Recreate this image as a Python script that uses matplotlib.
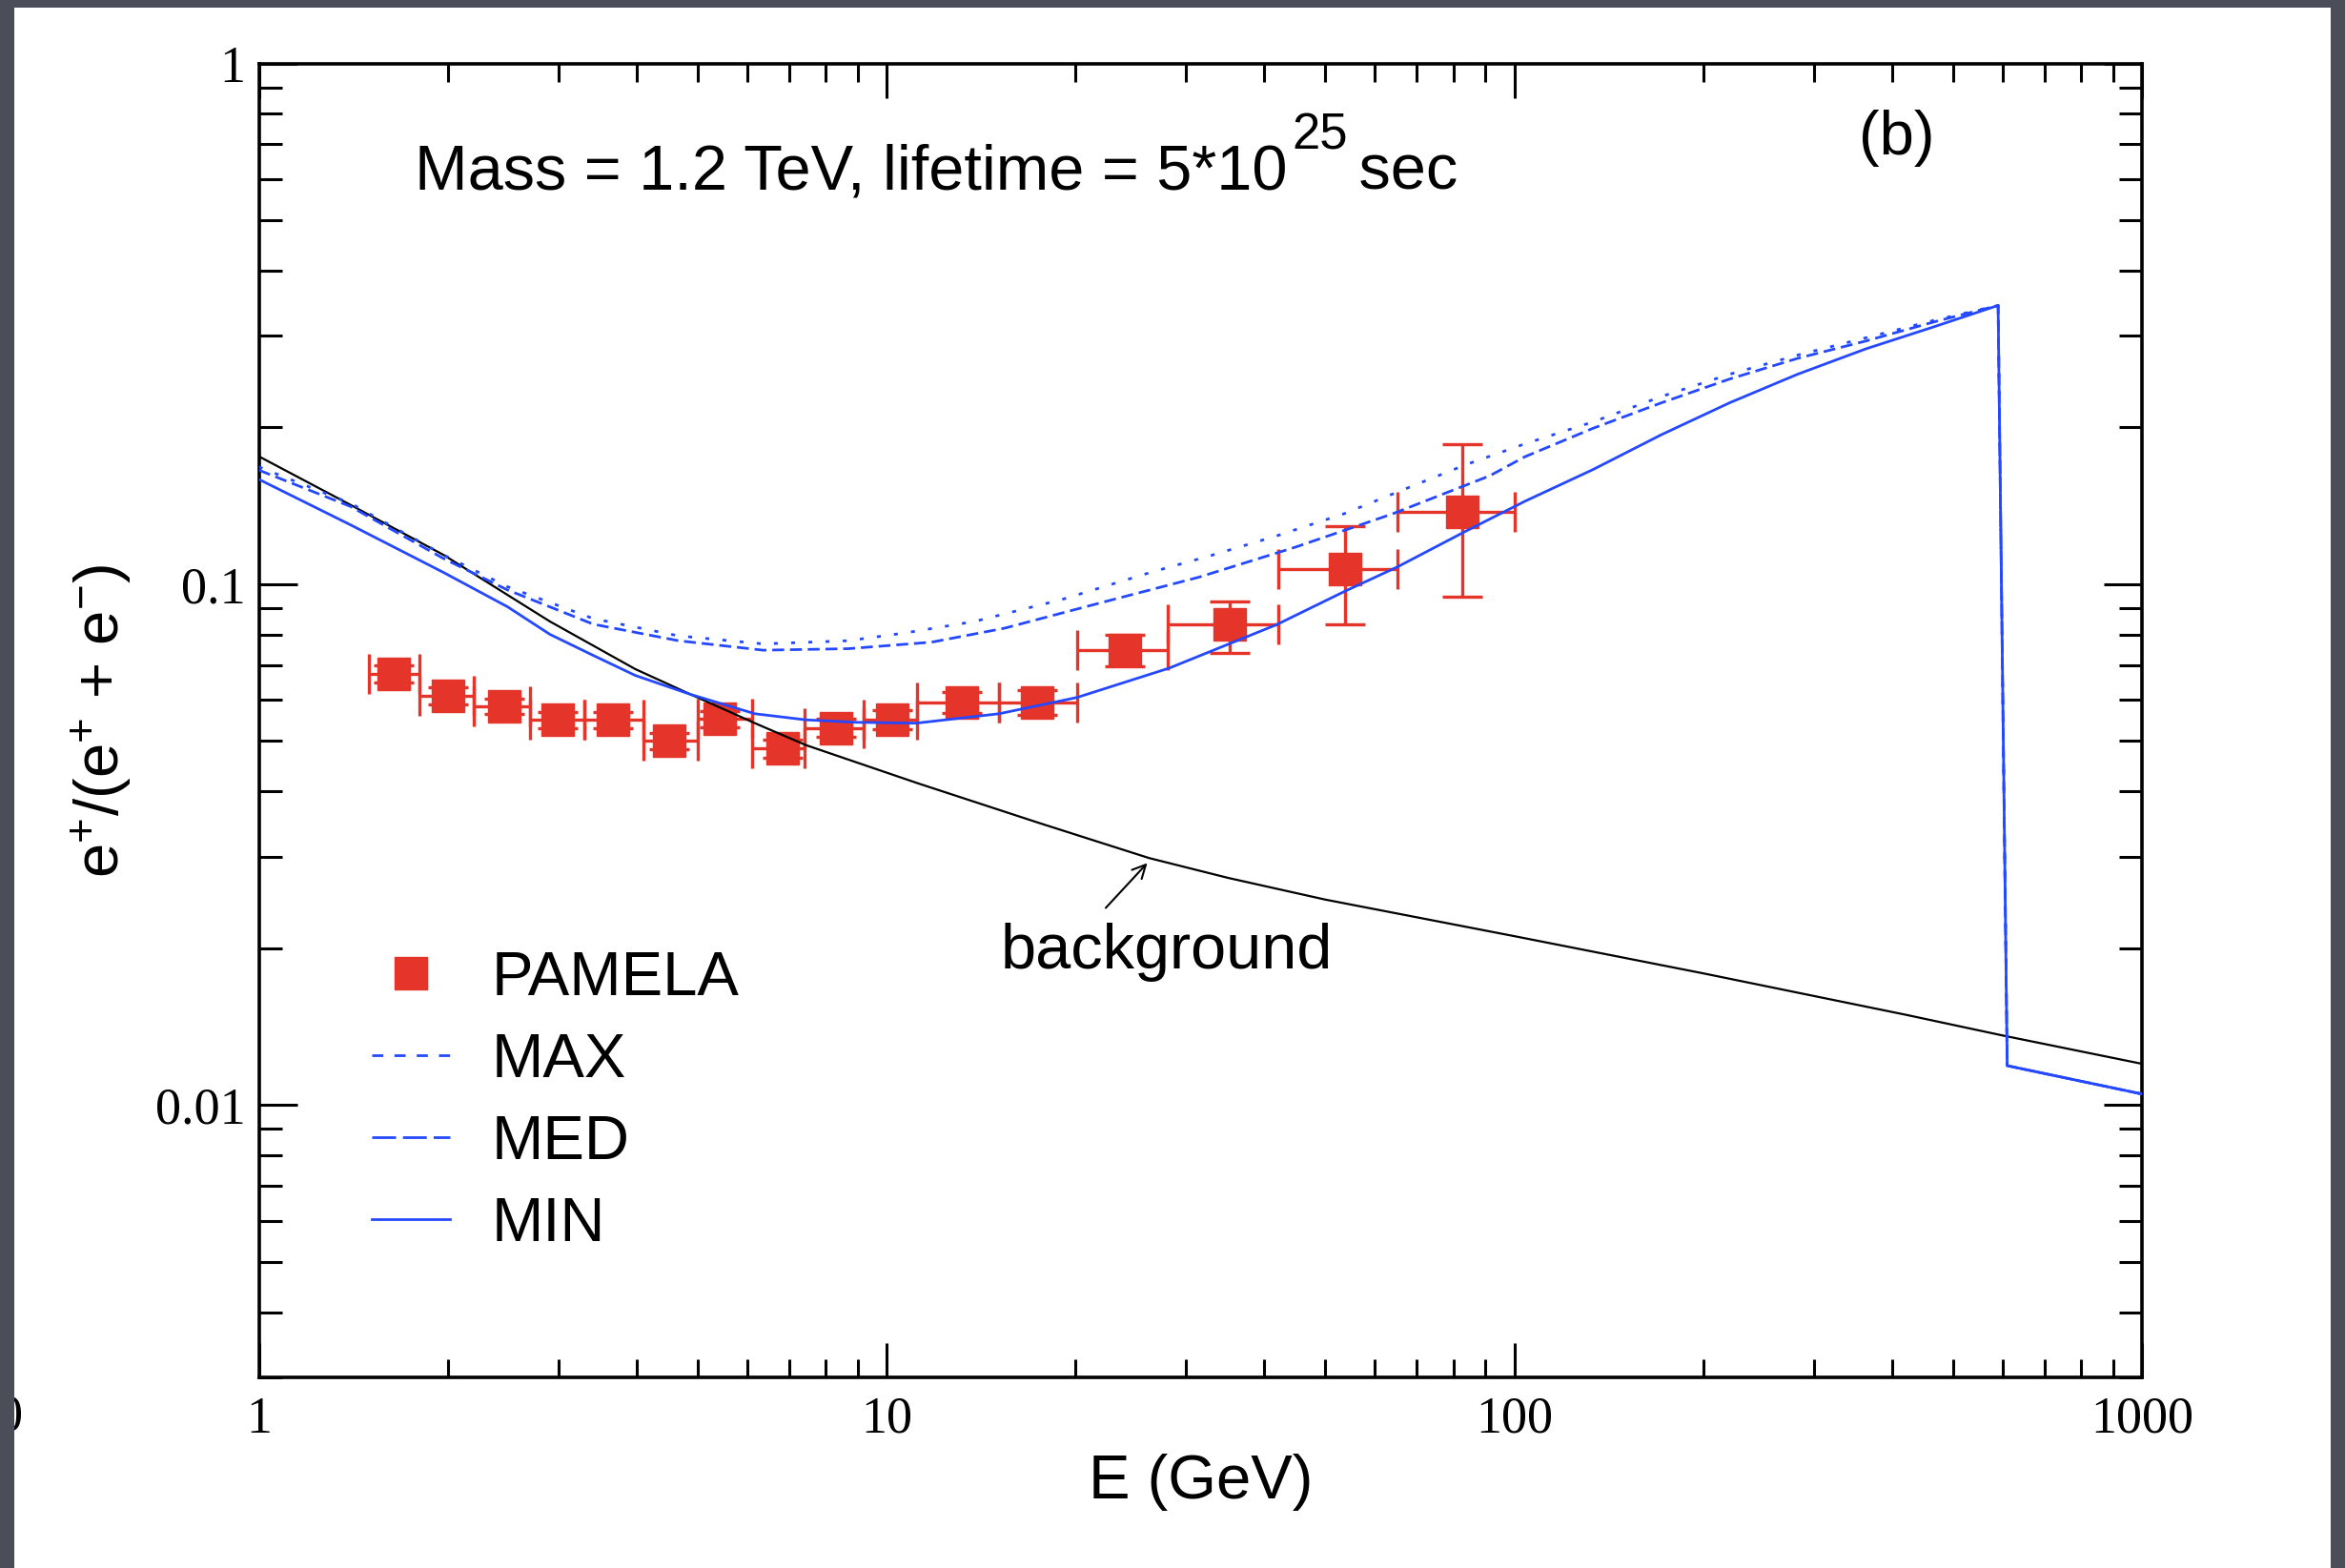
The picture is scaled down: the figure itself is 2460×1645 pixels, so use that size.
import matplotlib
matplotlib.use("Agg")
import matplotlib.pyplot as plt
from matplotlib.lines import Line2D
from matplotlib.patches import Rectangle
from matplotlib.transforms import Bbox, TransformedBbox, offset_copy
from matplotlib.ticker import LogLocator, FuncFormatter, NullFormatter

plt.rcParams["font.family"] = ["Liberation Sans", "DejaVu Sans"]
plt.rcParams["mathtext.fontset"] = "custom"
plt.rcParams["mathtext.rm"] = "Liberation Sans"
plt.rcParams["mathtext.default"] = "regular"

# ---- PAMELA positron fraction ----
pamela_E = [1.64, 2.0, 2.46, 2.99, 3.66, 4.51, 5.42, 6.83, 8.32, 10.2,
            13.2, 17.4, 24.0, 35.2, 53.7, 82.6]
pamela_frac = [0.0673, 0.0611, 0.0584, 0.0549, 0.0549, 0.0501, 0.0551, 0.0484,
               0.0530, 0.0549, 0.0593, 0.0593, 0.0747, 0.0836, 0.1068, 0.1375]
pamela_err_lo = [0.0025, 0.0022, 0.0020, 0.0019, 0.0019, 0.0018, 0.0019, 0.0019,
                 0.0021, 0.0023, 0.0028, 0.0033, 0.0050, 0.0099, 0.0232, 0.0427]
pamela_err_hi = [0.0025, 0.0022, 0.0020, 0.0019, 0.0019, 0.0018, 0.0019, 0.0019,
                 0.0021, 0.0023, 0.0028, 0.0033, 0.0052, 0.0092, 0.0222, 0.0483]
pamela_bin_edges = [1.5, 1.8, 2.2, 2.7, 3.3, 4.1, 5.0, 6.1, 7.4, 9.2, 11.2,
                    15.1, 20.1, 28.1, 42.1, 65.2, 100.0]

# ---- secondary background ----
bg_E = [1.0, 1.4, 1.97, 2.91, 3.98, 4.88, 6.17, 7.44, 11.2, 17.5, 26.2, 35.0,
        50.0, 100.0, 200.0, 421.0, 600.0, 1000.0]
bg_frac = [0.176, 0.142, 0.1138, 0.0848, 0.0687, 0.0614, 0.0541, 0.0491, 0.0415,
           0.0348, 0.0298, 0.0273, 0.0248, 0.0211, 0.0179, 0.0149, 0.0136, 0.0120]

# ---- background + decaying dark matter, three propagation models ----
max_E = [1.0, 1.4, 1.97, 2.49, 3.41, 4.66, 6.36, 8.7, 10.76, 13.8, 19.05, 26.3,
         33.1, 41.8, 53.6, 66.4, 83.7, 104.0, 133.6, 171.6, 220.3, 282.7, 363.0,
         466.0, 590.0, 610.0, 1000.0]
max_frac = [0.168, 0.143, 0.1138, 0.0989, 0.0859, 0.0796, 0.0768, 0.0779, 0.0807,
            0.0848, 0.0935, 0.1053, 0.1138, 0.1238, 0.1366, 0.1517, 0.1696, 0.186,
            0.205, 0.2293, 0.253, 0.2753, 0.2972, 0.321, 0.343, 0.0119, 0.0105]

med_E = [1.0, 1.4, 1.97, 2.49, 3.41, 4.66, 6.36, 8.7, 11.8, 15.4, 22.0, 31.4,
         44.8, 64.0, 91.4, 104.0, 133.6, 171.6, 220.3, 282.7, 363.0, 466.0,
         590.0, 610.0, 1000.0]
med_frac = [0.1656, 0.141, 0.112, 0.0975, 0.0838, 0.0779, 0.0747, 0.0752, 0.0774,
            0.0823, 0.0922, 0.1031, 0.1178, 0.1365, 0.1615, 0.1757, 0.1993, 0.223,
            0.2477, 0.2714, 0.293, 0.3188, 0.343, 0.0119, 0.0105]

min_E = [1.0, 1.4, 1.97, 2.49, 2.91, 3.41, 3.98, 4.88, 6.17, 7.44, 8.97, 11.15,
         15.1, 20.1, 28.2, 41.8, 53.6, 65.2, 83.7, 104.0, 133.6, 171.6, 220.3,
         282.7, 363.0, 466.0, 590.0, 610.0, 1000.0]
min_frac = [0.159, 0.130, 0.1053, 0.0905, 0.0801, 0.0730, 0.0668, 0.0614, 0.0564,
            0.0549, 0.0543, 0.0541, 0.0564, 0.0606, 0.0690, 0.0836, 0.0968, 0.108,
            0.1264, 0.1443, 0.1661, 0.1937, 0.223, 0.253, 0.283, 0.312, 0.343,
            0.0119, 0.0105]

RED = "#e5352a"
BLUE = "#2448ff"

W, H = 2460, 1645
fig = plt.figure(figsize=(W / 100, H / 100), dpi=100, facecolor="#4b4e59")

panel = Rectangle((15 / W, 0), (2445 - 15) / W, (H - 8) / H, transform=fig.transFigure,
                  facecolor="white", edgecolor="none", zorder=-10)
fig.patches.append(panel)

# digit from the neighbouring panel, cut by the slide edge
edge_txt = fig.text(24 / W, 1 - 1487 / H, "0", fontsize=39, family="Liberation Serif",
                    ha="right", va="center")
edge_txt.set_clip_box(TransformedBbox(Bbox.from_extents(15 / W, 0, 1, 1), fig.transFigure))

ax = fig.add_axes([271.5 / W, (H - 1445) / H, (2247 - 271.5) / W, (1445 - 66.5) / H])
ax.set_zorder(1)
ax.set_facecolor("white")
ax.set_xscale("log")
ax.set_yscale("log")
ax.set_xlim(1, 1000)
ax.set_ylim(0.003, 1)

xerr = [[e - lo for e, lo in zip(pamela_E, pamela_bin_edges[:-1])],
        [hi - e for e, hi in zip(pamela_E, pamela_bin_edges[1:])]]
ax.errorbar(pamela_E, pamela_frac, xerr=xerr, yerr=[pamela_err_lo, pamela_err_hi],
            fmt="s", ms=25, color=RED, ecolor=RED, elinewidth=2.4, capsize=15,
            capthick=2.4, zorder=2)

ax.plot(bg_E, bg_frac, color="black", lw=1.6, zorder=3)
ax.plot(max_E, max_frac, color=BLUE, lw=2.0, ls=(0, (1.5, 5)), zorder=4)
ax.plot(med_E, med_frac, color=BLUE, lw=2.0, ls=(0, (4.5, 2.2)), zorder=4)
ax.plot(min_E, min_frac, color=BLUE, lw=2.0, ls="-", zorder=4)

legend_handles = [
    Line2D([], [], ls="none", marker="s", ms=25, color=RED),
    Line2D([], [], color=BLUE, lw=2.0, ls=(0, (4.2, 4.2))),
    Line2D([], [], color=BLUE, lw=2.0, ls=(0, (9.0, 2.6))),
    Line2D([], [], color=BLUE, lw=2.0, ls="-"),
]
ax.legend(legend_handles, ["PAMELA", "MAX", "MED", "MIN"],
          loc="upper left", bbox_to_anchor=(0.06, 0.325), frameon=False, fontsize=47,
          handlelength=1.26, handletextpad=0.66, labelspacing=0.40, borderpad=0,
          borderaxespad=0)

# model parameters, with a raised exponent
tx, ty = 0.0828, 0.904
t1 = ax.text(tx, ty, "Mass = 1.2 TeV, lifetime = 5*10", transform=ax.transAxes,
             fontsize=48, va="baseline")
renderer = fig.canvas.get_renderer()
w1 = t1.get_window_extent(renderer).width
t2 = ax.text(tx, ty, "25", fontsize=38, va="baseline",
             transform=offset_copy(ax.transAxes, fig=fig, x=w1 + 5, y=42, units="dots"))
w2 = t2.get_window_extent(renderer).width
ax.text(tx, ty, " sec", fontsize=48, va="baseline",
        transform=offset_copy(ax.transAxes, fig=fig, x=w1 + w2 - 2, y=0, units="dots"))

ax.text(0.8497, 0.9307, "(b)", transform=ax.transAxes, fontsize=47, va="baseline")
ax.text(15.2, 0.01828, "background", fontsize=48, va="baseline")
ax.annotate("", xy=(26.2, 0.0294), xytext=(22.2, 0.0237),
            arrowprops=dict(arrowstyle="->", lw=1.5, color="black", mutation_scale=25))

for axis in (ax.xaxis, ax.yaxis):
    axis.set_major_locator(LogLocator(base=10, numticks=12))
    axis.set_minor_locator(LogLocator(base=10, subs=range(2, 10), numticks=12))
    axis.set_major_formatter(FuncFormatter(lambda v, p: "%g" % v))
    axis.set_minor_formatter(NullFormatter())

ax.tick_params(which="both", direction="in", top=True, right=True, width=2.2,
               color="black", labelsize=39, labelfontfamily="Liberation Serif")
ax.tick_params(axis="y", which="major", length=29, pad=10)
ax.tick_params(axis="y", which="minor", length=17)
ax.tick_params(axis="x", which="major", length=26, pad=14)
ax.tick_params(axis="x", which="minor", length=14)
for sp in ax.spines.values():
    sp.set_linewidth(2.6)

ax.set_xlabel("E (GeV)", fontsize=47)
ax.xaxis.set_label_coords(0.5, -0.058)
ax.set_ylabel(r"e$^{+}$/(e$^{+}$ + e$^{-}$)", fontsize=47)
ax.yaxis.set_label_coords(-0.066, 0.5)

fig.savefig("out.png", dpi=100, facecolor=fig.get_facecolor())
